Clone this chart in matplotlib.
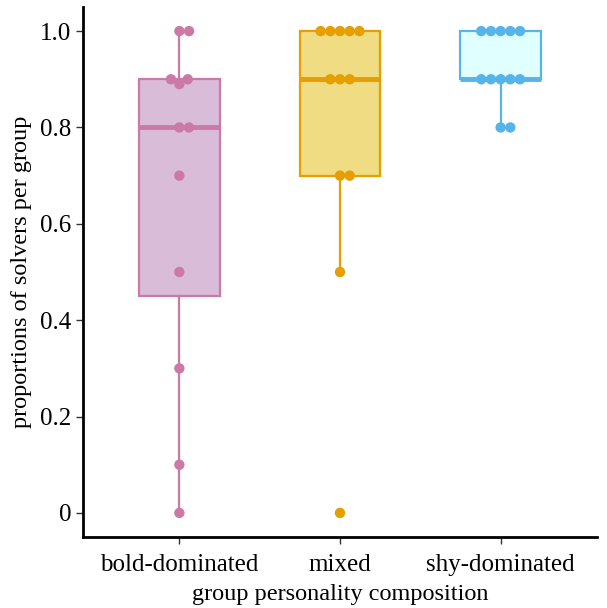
import matplotlib

matplotlib.use("Agg")
import matplotlib.pyplot as plt
import numpy as np

# data
groups = ["bold-dominated", "mixed", "shy-dominated"]
bold = [0.0, 0.1, 0.3, 0.5, 0.7, 0.8, 0.8, 0.89, 0.9, 0.9, 1.0, 1.0]
mixed = [0.0, 0.5, 0.7, 0.7, 0.9, 0.9, 0.9, 1.0, 1.0, 1.0, 1.0, 1.0]
shy = [0.8, 0.8, 0.9, 0.9, 0.9, 0.9, 0.9, 1.0, 1.0, 1.0, 1.0, 1.0]

line_colors = ["#CC79A7", "#E69F00", "#56B4E9"]
fill_colors = ["#D9BCD7", "#F0DC82", "#E0FFFF"]

plt.rcParams.update({
    "font.family": "Liberation Serif",
    "font.size": 18,
})

W, H = 607, 608
fig = plt.figure(figsize=(W / 100, H / 100), dpi=100)
ax = fig.add_axes([83 / W, 1 - 537 / H, 514 / W, 530 / H])
ax.set_xlim(0.4, 3.6)
ax.set_ylim(-0.05, 1.05)

px_x = 514 / 3.2   # pixels per x unit
px_y = 530 / 1.1   # pixels per y unit
dot = 9.7          # dot diameter in pixels


def swarm(vals):
    """Simple beeswarm offsets (in x data units)."""
    placed = []
    out = []
    for v in sorted(vals):
        y = v * px_y
        cands = [0.0]
        for px, py in placed:
            dy = abs(y - py)
            if dy < dot:
                dx = np.sqrt(dot ** 2 - dy ** 2)
                cands += [px + dx, px - dx]
        ok = []
        for c in cands:
            if all((c - px) ** 2 + (y - py) ** 2 >= dot ** 2 - 1e-6 for px, py in placed):
                ok.append(c)
        best = min(ok, key=lambda c: (round(abs(c), 4), -c))
        placed.append((best, y))
        out.append((best / px_x, v))
    return out


for i, (vals, lc, fc) in enumerate(zip([bold, mixed, shy], line_colors, fill_colors)):
    pos = i + 1
    ax.boxplot(vals, positions=[pos], widths=0.5, patch_artist=True,
               showfliers=False, showcaps=False,
               boxprops=dict(facecolor=fc, edgecolor=lc, linewidth=1.6),
               whiskerprops=dict(color=lc, linewidth=1.6),
               medianprops=dict(color=lc, linewidth=3.5),
               zorder=2)
    pts = swarm(vals)
    xs = [pos + dx for dx, _ in pts]
    ys = [v for _, v in pts]
    ax.scatter(xs, ys, s=56, color=lc, edgecolors="none", zorder=3, clip_on=False)

ax.set_xticks([1, 2, 3])
ax.set_xticklabels(groups)
ax.set_yticks([0, 0.2, 0.4, 0.6, 0.8, 1.0])
ax.set_yticklabels(["0", "0.2", "0.4", "0.6", "0.8", "1.0"])
ax.tick_params(axis="both", length=5, width=1, color="#333333", labelsize=18, labelcolor="black")
ax.tick_params(axis="x", pad=7)
ax.set_xlabel("group personality composition", fontsize=17.5, labelpad=6)
ax.set_ylabel("proportions of solvers per group", fontsize=17.5, labelpad=6)

for side in ["top", "right"]:
    ax.spines[side].set_visible(False)
for side in ["left", "bottom"]:
    ax.spines[side].set_linewidth(2)

fig.savefig("out.png", dpi=100)
